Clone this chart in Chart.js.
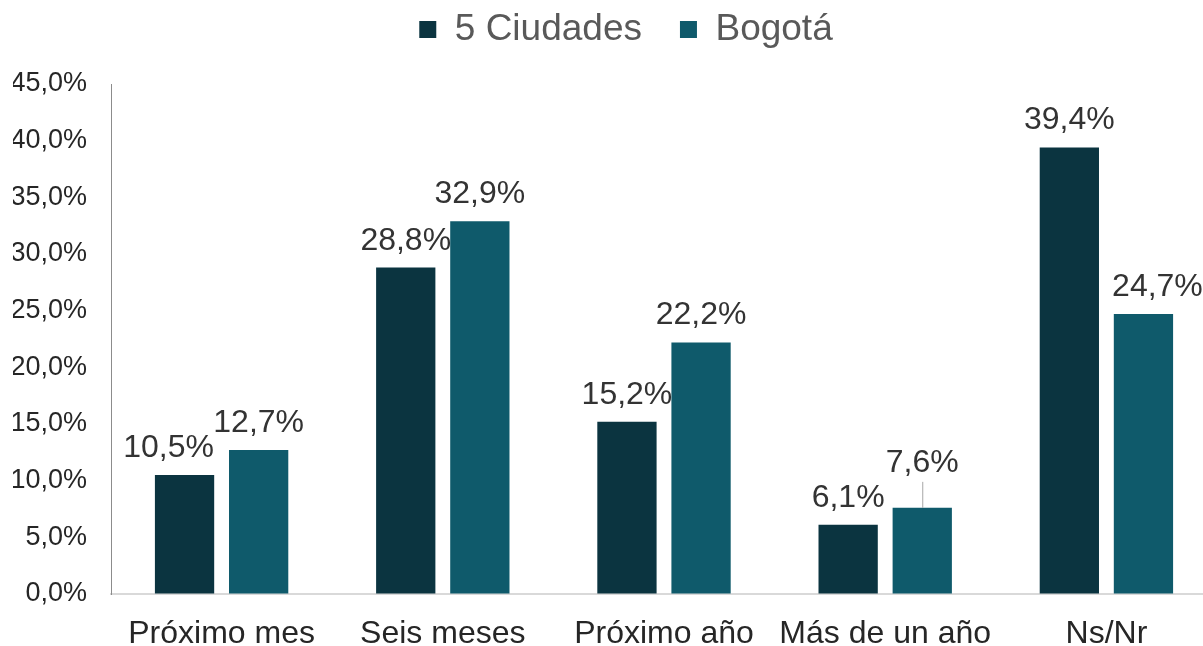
<!DOCTYPE html>
<html lang="es">
<head>
  <meta charset="UTF-8">
  <title>Intención de compra</title>
  <script src="https://cdn.jsdelivr.net/npm/chart.js"></script>
  <style>
    html, body { margin: 0; padding: 0; overflow: hidden; background: #fff; }
    #wrap { width: 1217px; height: 646px; }
  </style>
</head>
<body>
  <div id="wrap"><canvas id="chart"></canvas></div>

  <script>
    const categories = ['Próximo mes', 'Seis meses', 'Próximo año', 'Más de un año', 'Ns/Nr'];
    const seriesNames = ['5 Ciudades', 'Bogotá'];
    const ciudades = [10.5, 28.8, 15.2, 6.1, 39.4];
    const bogota = [12.7, 32.9, 22.2, 7.6, 24.7];
    const yMin = 0, yMax = 45, yStep = 5;

    const FONT = '"Liberation Sans", Arial, sans-serif';
    const fmt = v => v.toFixed(1).replace('.', ',') + '%';

    // a few labels are nudged in the original so they don't collide
    const labelNudge = {
      '0-0': { dx: -16 },
      '1-4': { dx: 14 },
      '1-3': { dy: -18, leader: true }
    };

    // value labels above each bar
    const barLabels = {
      id: 'barLabels',
      afterDatasetsDraw(chart) {
        const ctx = chart.ctx;
        ctx.save();
        ctx.font = '32px ' + FONT;
        ctx.fillStyle = '#333333';
        ctx.textAlign = 'center';
        ctx.textBaseline = 'alphabetic';
        chart.data.datasets.forEach((ds, di) => {
          chart.getDatasetMeta(di).data.forEach((bar, i) => {
            const n = labelNudge[di + '-' + i] || {};
            const y = bar.y - 18 + (n.dy || 0);
            if (n.leader) {
              ctx.strokeStyle = '#a6a6a6';
              ctx.lineWidth = 1;
              ctx.beginPath();
              ctx.moveTo(bar.x + 0.5, y + 10);
              ctx.lineTo(bar.x + 0.5, bar.y);
              ctx.stroke();
            }
            ctx.fillText(fmt(ds.data[i]), bar.x + (n.dx || 0), y);
          });
        });
        ctx.restore();
      }
    };

    // extra room between legend and plot, and nudge legend a bit right
    const legendSpacer = {
      id: 'legendSpacer',
      beforeInit(chart) {
        const fit = chart.legend.fit;
        chart.legend.fit = function () {
          fit.call(this);
          this.height += 26;
        };
      },
      afterLayout(chart) {
        chart.legend.left += 11;
        chart.legend.right += 11;
      }
    };

    new Chart(document.getElementById('chart'), {
      type: 'bar',
      data: {
        labels: categories,
        datasets: [
          { label: seriesNames[0], data: ciudades, backgroundColor: '#0b3440' },
          { label: seriesNames[1], data: bogota, backgroundColor: '#0f5a6b' }
        ]
      },
      options: {
        responsive: true,
        maintainAspectRatio: false,
        animation: false,
        datasets: { bar: { categoryPercentage: 0.67, barPercentage: 0.8 } },
        layout: { padding: { top: -27, left: 13, right: 0, bottom: 0 } },
        plugins: {
          legend: {
            position: 'top',
            labels: {
              boxWidth: 17,
              boxHeight: 17,
              padding: 38,
              color: '#595959',
              font: { family: FONT, size: 37 }
            }
          },
          tooltip: { enabled: false }
        },
        scales: {
          x: {
            grid: { color: 'transparent', drawTicks: false },
            border: { color: '#d9d9d9', width: 2 },
            ticks: { color: '#262626', padding: 21, font: { family: FONT, size: 32 } },
            afterFit: s => { s.height = 52; }
          },
          y: {
            min: yMin,
            max: yMax,
            grid: { color: 'transparent', drawTicks: false },
            border: { color: '#8c8c8c', width: 1 },
            ticks: {
              stepSize: yStep,
              padding: 24,
              color: '#262626',
              font: { family: FONT, size: 27 },
              callback: v => fmt(v)
            },
            afterFit: s => { s.width = 98; }
          }
        }
      },
      plugins: [barLabels, legendSpacer]
    });
  </script>
</body>
</html>
